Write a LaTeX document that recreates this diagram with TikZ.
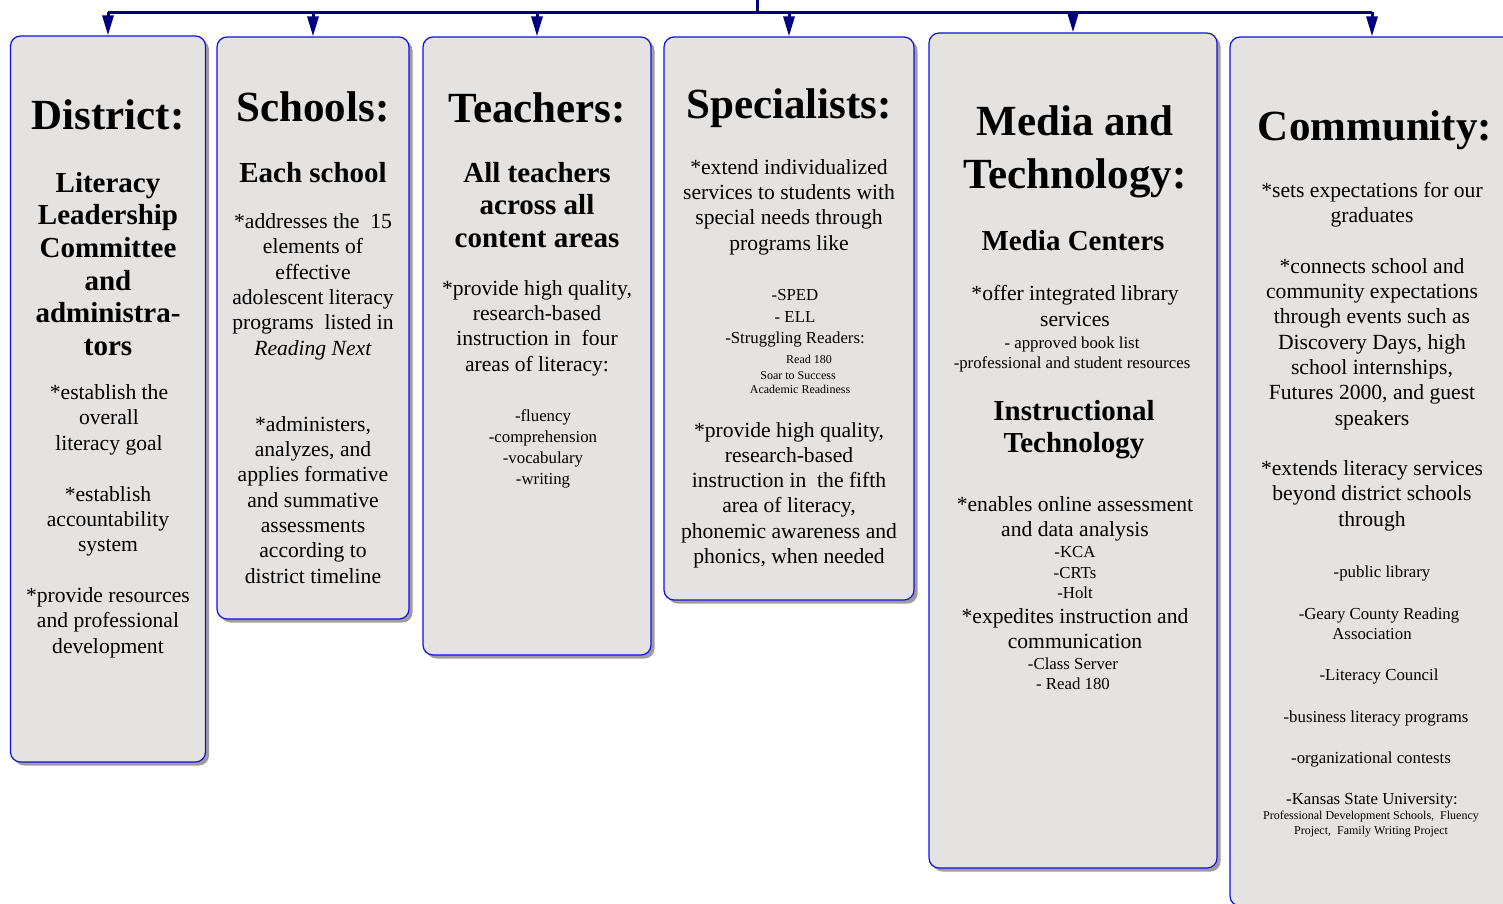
\documentclass[tikz,border=0pt]{standalone}
\usepackage{fontspec}
\setmainfont{Liberation Serif}
\usetikzlibrary{arrows.meta,shadows}
\definecolor{navy}{RGB}{0,0,128}
\definecolor{boxblue}{RGB}{15,15,225}
\definecolor{boxfill}{RGB}{228,227,226}
\definecolor{shadowgray}{RGB}{160,156,156}
\newcommand\txtlines[6]{\foreach \t [count=\i from 0] in {#6} {\node[#5] (#1\i) at (#2,{#3+\i*#4}) {\t};}}
\begin{document}
\begin{tikzpicture}[x=1pt,y=-1pt,
  box/.style={draw=boxblue, line width=1.2pt, fill=boxfill, rounded corners=10pt, inner sep=0pt,
    drop shadow={shadow xshift=3.5pt, shadow yshift=-3.5pt, fill=shadowgray, opacity=1}},
  bus/.style={draw=navy, line width=3pt},
  arr/.style={draw=navy, line width=3pt, -{Triangle[length=20pt,width=11pt]}},
  txt/.style={anchor=mid, inner sep=0pt, text=black},
  title/.style={txt, yshift=-12pt, font=\bfseries\fontsize{43}{50}\selectfont},
  sub/.style={txt, yshift=-8pt, font=\bfseries\fontsize{29}{32}\selectfont},
  body/.style={txt, yshift=-5pt, font=\fontsize{21.6}{25}\selectfont},
  small/.style={txt, yshift=-3.5pt, font=\fontsize{16.8}{20}\selectfont},
  tiny/.style={txt, yshift=-2pt, font=\fontsize{12}{15}\selectfont}]
\useasboundingbox (0,0) rectangle (1503,903);
% boxes
\node[box, minimum width=195pt, minimum height=726pt] (dist) at (108,399) {};
\node[box, minimum width=192pt, minimum height=582pt] (sch) at (313,328) {};
\node[box, minimum width=228pt, minimum height=618pt] (tea) at (537,346) {};
\node[box, minimum width=250pt, minimum height=563pt] (spe) at (789,318.5) {};
\node[box, minimum width=288pt, minimum height=835pt] (med) at (1073,450.5) {};
\node[box, minimum width=284pt, minimum height=869pt] (com) at (1372,471.5) {};
% connectors
\coordinate (top) at (757,0);
\coordinate (junc) at (757,12);
\coordinate (b1) at (dist.north |- junc);
\coordinate (b2) at (sch.north |- junc);
\coordinate (b3) at (tea.north |- junc);
\coordinate (b4) at (spe.north |- junc);
\coordinate (b5) at (med.north |- junc);
\coordinate (b6) at (com.north |- junc);
\draw[bus] (top) -- (junc);
\draw[bus] (b1) -- (b6);
\draw[arr] (b1) -- (dist.north);
\draw[arr] (b2) -- (sch.north);
\draw[arr] (b3) -- (tea.north);
\draw[arr] (b4) -- (spe.north);
\draw[arr] (b5) -- (med.north);
\draw[arr] (b6) -- (com.north);
% District
\txtlines{dt}{108}{115}{53}{title}{District:}
\txtlines{ds}{108}{182}{32.6}{sub}{Literacy,Leadership,Committee,and,administra-,tors}
\txtlines{da}{109}{392}{25.4}{body}{*establish the,overall,literacy goal}
\txtlines{db}{108}{494}{25.2}{body}{*establish,accountability,system}
\txtlines{dc}{108}{595}{25.4}{body}{*provide resources,and professional,development}
% Schools
\txtlines{st}{313}{107}{53}{title}{Schools:}
\txtlines{ss}{313}{172}{32}{sub}{Each school}
\txtlines{sa}{313}{221}{25.4}{body}{*addresses the\ \ 15,elements of,effective,adolescent literacy,programs\ \ listed in,\textit{Reading Next}}
\txtlines{sb}{313}{424}{25.3}{body}{{*administers,},{analyzes, and},applies formative,and summative,assessments,according to,district timeline}
% Teachers
\txtlines{tt}{537}{108}{53}{title}{Teachers:}
\txtlines{ts}{537}{172}{32.5}{sub}{All teachers,across all,content areas}
\txtlines{ta}{537}{288}{25.3}{body}{{*provide high quality,},research-based,instruction in\ \ four,areas of literacy:}
\txtlines{tb}{543}{416}{21}{small}{-fluency,-comprehension,-vocabulary,-writing}
% Specialists
\txtlines{pt}{789}{104}{53}{title}{Specialists:}
\txtlines{pa}{789}{167}{25.3}{body}{*extend individualized,services to students with,special needs through,programs like}
\txtlines{pb}{795}{295}{21.5}{small}{-SPED,- ELL,-Struggling Readers:}
\node[tiny] (pc0) at (809,359) {Read 180};
\node[tiny] (pc1) at (798,375) {Soar to Success};
\node[tiny] (pc2) at (800,389) {Academic Readiness};
\txtlines{pd}{789}{430}{25.2}{body}{{*provide high quality,},research-based,instruction in\ \ the fifth,{area of literacy,},phonemic awareness and,{phonics, when needed}}
% Media and Technology
\txtlines{mt}{1075}{121}{53}{title}{Media and,Technology:}
\txtlines{ms}{1073}{240}{32}{sub}{Media Centers}
\txtlines{ma}{1075}{293}{26}{body}{*offer integrated library,services}
\txtlines{mb}{1072}{343}{20}{small}{- approved book list,-professional and student resources}
\txtlines{mc}{1074}{410}{32}{sub}{Instructional,Technology}
\txtlines{md}{1075}{504}{25}{body}{*enables online assessment,and data analysis}
\txtlines{me}{1075}{552}{20.5}{small}{-KCA,-CRTs,-Holt}
\txtlines{mf}{1075}{616}{25}{body}{*expedites instruction and,communication}
\node[small] (mg0) at (1073,664) {-Class Server};
\node[small] (mg1) at (1073,684) {- Read 180};
% Community
\txtlines{ct}{1375}{126}{53}{title}{Community:}
\txtlines{ca}{1372}{190}{25}{body}{*sets expectations for our,graduates}
\txtlines{cb}{1372}{266}{25.3}{body}{*connects school and,community expectations,through events such as,{Discovery Days, high},{school internships,},{Futures 2000, and guest},speakers}
\txtlines{cc}{1372}{468}{25.5}{body}{*extends literacy services,beyond district schools,through}
\node[small] (cd0) at (1382,572) {-public library};
\node[small] (cd1) at (1379,614) {-Geary County Reading};
\node[small] (cd2) at (1372,634) {Association};
\node[small] (cd3) at (1379,675) {-Literacy Council};
\node[small] (cd4) at (1376,717) {-business literacy programs};
\node[small] (cd5) at (1371,758) {-organizational contests};
\node[small] (cd6) at (1372,799) {-Kansas State University:};
\txtlines{ce}{1371}{815}{15}{tiny}{{Professional Development Schools,\ \ Fluency},{Project,\ \ Family Writing Project}}
\end{tikzpicture}
\end{document}
